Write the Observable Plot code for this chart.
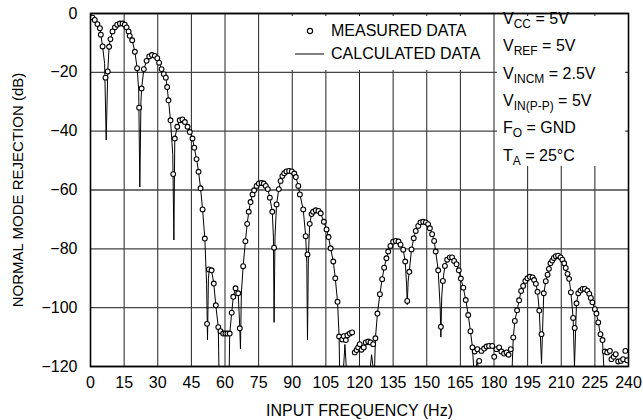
<!DOCTYPE html>
<html>
<head>
<meta charset="utf-8">
<script src="https://cdn.jsdelivr.net/npm/d3@7"></script>
<script src="https://cdn.jsdelivr.net/npm/@observablehq/plot@0.6"></script>
<style>
  html, body { margin: 0; padding: 0; background: #fff; }
  #wrap { position: relative; width: 643px; height: 420px; font-family: "Liberation Sans", Arial, Helvetica, sans-serif; color: #000; }
  .box { position: absolute; background: #fff; }
  .t { position: absolute; font-size: 16px; line-height: 16px; white-space: nowrap; }
  .t sub { font-size: 12px; vertical-align: -4px; line-height: 0; }
</style>
</head>
<body>
<div id="wrap"></div>
<script>
// ---- data ----
const xTicks = [0, 15, 30, 45, 60, 75, 90, 105, 120, 135, 150, 165, 180, 195, 210, 225, 240];
const yTicks = [0, -20, -40, -60, -80, -100, -120];

const measuredFreq = [0.9,1.9,3.1,4.2,4.6,5.4,6.7,7.7,8.3,8.9,9.8,10.9,11.9,13.1,14.3,15.3,16.1,17.0,17.5,18.6,19.8,20.8,21.7,22.8,23.8,25.0,26.2,27.4,28.7,29.8,30.6,31.7,32.7,33.6,34.2,34.8,35.7,36.9,37.6,38.7,39.8,41.0,42.1,43.3,44.3,45.5,46.3,47.3,48.2,49.1,50.0,51.0,52.0,52.8,54.0,55.0,55.9,57.0,58.0,59.2,60.2,61.1,62.1,63.0,63.7,64.7,65.9,66.6,68.1,69.1,69.9,70.6,71.4,72.3,73.0,74.1,75.1,76.3,77.3,78.2,79.1,80.0,81.1,81.9,83.0,84.0,84.8,85.6,86.4,87.4,88.6,89.8,90.9,91.6,92.7,93.4,94.9,96.0,96.8,97.8,98.6,99.3,100.5,101.7,102.7,104.1,105.3,106.2,107.1,108.3,109.2,110.2,110.9,112.3,113.0,113.9,114.6,115.7,116.7,117.9,118.7,119.4,120.1,120.9,121.9,122.8,123.9,124.9,126.1,127.1,128.0,129.1,130.1,131.0,132.0,132.8,133.8,135.0,136.2,137.4,138.3,139.5,140.4,141.3,142.2,143.2,144.2,145.1,146.2,147.2,148.4,149.6,150.6,151.4,152.4,153.3,154.0,155.1,156.3,157.2,158.1,159.1,160.3,161.3,162.2,163.3,164.3,165.2,166.3,167.4,168.5,169.5,170.4,171.4,172.6,173.4,174.4,175.6,176.7,177.8,179.2,180.1,181.1,182.3,183.3,184.5,185.6,186.5,187.5,188.6,189.3,190.3,191.2,192.1,193.0,194.0,194.9,196.0,197.2,197.9,198.7,199.4,200.2,201.2,202.2,203.1,203.9,204.5,205.2,206.0,206.7,207.6,208.6,209.7,210.5,211.3,212.0,212.8,213.5,214.3,215.3,216.0,216.8,217.6,218.6,219.5,220.5,221.6,222.5,223.2,223.9,225.0,225.7,226.5,227.5,228.4,229.4,230.5,231.7,232.4,233.4,234.3,235.4,236.6,237.6,238.6,239.4];
const measuredDb = [-1.4,-2.2,-3.6,-5.0,-7.2,-11.2,-21.8,-19.7,-11.3,-8.7,-6.1,-4.7,-3.8,-3.4,-3.4,-3.8,-4.7,-6.1,-7.6,-9.1,-13.0,-18.6,-32.0,-25.5,-18.9,-16.1,-14.6,-14.1,-14.4,-15.2,-16.7,-18.9,-20.6,-21.8,-25.0,-29.5,-36.3,-54.6,-42.5,-38.5,-36.3,-36.0,-36.9,-38.5,-40.3,-42.5,-45.6,-49.5,-53.8,-59.4,-66.6,-76.5,-105.5,-87.0,-87.3,-91.8,-99.2,-106.6,-108.0,-108.8,-108.8,-108.8,-108.8,-101.7,-96.3,-93.4,-95.1,-107.0,-85.9,-77.4,-71.5,-67.4,-64.1,-61.5,-60.1,-58.6,-57.8,-57.6,-57.8,-58.6,-59.7,-62.6,-67.4,-79.6,-64.9,-59.7,-56.9,-55.2,-54.3,-53.7,-53.5,-53.7,-54.4,-55.6,-58.6,-61.5,-66.6,-75.7,-81.9,-71.5,-68.2,-67.4,-66.9,-67.1,-67.9,-70.8,-73.4,-76.0,-79.8,-84.3,-90.0,-98.0,-109.8,-110.8,-109.7,-111.0,-109.4,-108.8,-108.4,-115.2,-114.4,-113.5,-112.4,-114.3,-113.5,-111.8,-111.5,-111.8,-112.4,-110.4,-102.0,-95.4,-90.3,-86.4,-83.2,-80.9,-79.0,-77.6,-77.3,-77.5,-78.6,-80.3,-84.3,-97.7,-87.8,-80.2,-76.4,-73.9,-72.2,-71.0,-70.8,-71.0,-71.6,-73.0,-75.0,-77.3,-80.9,-87.3,-106.5,-90.9,-85.8,-83.7,-82.9,-82.9,-84.1,-85.2,-87.3,-90.1,-93.2,-97.4,-102.5,-108.0,-113.5,-114.9,-114.1,-118.1,-114.7,-113.9,-113.2,-113.0,-113.0,-116.7,-114.1,-113.5,-114.9,-115.6,-115.2,-116.0,-114.1,-110.1,-104.5,-100.9,-97.5,-94.3,-92.6,-90.9,-90.0,-89.5,-89.7,-90.6,-91.9,-94.6,-101.0,-109.0,-95.1,-91.0,-88.8,-86.8,-84.9,-84.0,-83.1,-82.5,-82.3,-82.9,-83.7,-84.9,-86.5,-88.5,-90.2,-94.8,-103.5,-106.9,-98.5,-95.1,-94.2,-93.6,-93.6,-94.2,-95.3,-96.7,-98.2,-100.5,-102.0,-105.0,-109.0,-111.0,-114.9,-115.2,-114.7,-117.5,-116.7,-115.8,-118.3,-118.1,-117.5,-114.7,-117.9];

const calcFreq = [0,0.9,1.9,3.1,4.2,4.6,5.4,6.3,7.0,7.7,8.3,8.9,9.8,10.9,11.9,13.1,14.3,15.3,16.1,17.0,17.5,18.6,19.8,20.8,21.5,22.0,22.5,22.8,23.8,25.0,26.2,27.4,28.7,29.8,30.6,31.7,32.7,33.6,34.2,34.8,35.7,36.7,37.2,37.6,38.7,39.8,41.0,42.1,43.3,44.3,45.5,46.3,47.3,48.2,49.1,50.0,51.0,51.8,52.2,52.6,53.0,54.0,55.0,55.9,57.0,57.5,61.7,62.1,63.0,63.7,64.7,65.9,66.6,66.9,67.3,68.1,69.1,69.9,70.6,71.4,72.3,73.0,74.1,75.1,76.3,77.3,78.2,79.1,80.0,81.1,81.6,81.9,82.3,83.0,84.0,84.8,85.6,86.4,87.4,88.6,89.8,90.9,91.6,92.7,93.4,94.9,96.0,96.5,96.8,97.2,97.8,98.6,99.3,100.5,101.7,102.7,104.1,105.3,106.2,107.1,108.3,109.2,110.2,110.9,111.3,112.6,113.5,114.4,124.3,125.4,126.6,127.1,128.0,129.1,130.1,131.0,132.0,132.8,133.8,135.0,136.2,137.4,138.3,139.5,140.4,141.0,141.3,141.7,142.2,143.2,144.2,145.1,146.2,147.2,148.4,149.6,150.6,151.4,152.4,153.3,154.0,155.1,156.0,156.3,156.7,157.2,158.1,159.1,160.3,161.3,162.2,163.3,164.3,165.2,166.3,167.4,168.5,169.5,170.4,171.2,172.5,173.7,187.9,188.6,189.3,190.3,191.2,192.1,193.0,194.0,194.9,196.0,197.2,197.9,198.7,199.4,200.2,201.2,202.2,203.1,203.9,204.5,205.2,206.0,206.7,207.6,208.6,209.7,210.5,211.3,212.0,212.8,213.5,214.3,215.3,215.9,216.8,217.6,218.6,219.5,220.5,221.6,222.5,223.2,223.9,225.0,225.7,226.5,227.5,228.4,229.6,240];
const calcDb = [0,-1.4,-2.2,-3.6,-5.0,-7.2,-11.2,-17,-43,-19.7,-11.3,-8.7,-6.1,-4.7,-3.8,-3.4,-3.4,-3.8,-4.7,-6.1,-7.6,-9.1,-13.0,-18.6,-26,-59,-30,-25.5,-18.9,-16.1,-14.6,-14.1,-14.4,-15.2,-16.7,-18.9,-20.6,-21.8,-25.0,-29.5,-36.3,-48,-77,-42.5,-38.5,-36.3,-36.0,-36.9,-38.5,-40.3,-42.5,-45.6,-49.5,-53.8,-59.4,-66.6,-76.5,-92,-111,-90,-87.0,-87.3,-91.8,-99.2,-106.6,-130,-130,-108.8,-101.7,-96.3,-93.4,-95.1,-107.0,-114,-95,-85.9,-77.4,-71.5,-67.4,-64.1,-61.5,-60.1,-58.6,-57.8,-57.6,-57.8,-58.6,-59.7,-62.6,-67.4,-76,-105,-76,-64.9,-59.7,-56.9,-55.2,-54.3,-53.7,-53.5,-53.7,-54.4,-55.6,-58.6,-61.5,-66.6,-75.7,-85,-111,-82,-71.5,-68.2,-67.4,-66.9,-67.1,-67.9,-70.8,-73.4,-76.0,-79.8,-84.3,-90.0,-98.0,-109.8,-130,-124,-112.5,-124,-124,-116,-124,-110.4,-102.0,-95.4,-90.3,-86.4,-83.2,-80.9,-79.0,-77.6,-77.3,-77.5,-78.6,-80.3,-84.3,-92,-99,-91,-87.8,-80.2,-76.4,-73.9,-72.2,-71.0,-70.8,-71.0,-71.6,-73.0,-75.0,-77.3,-80.9,-87.3,-100,-110,-96,-90.9,-85.8,-83.7,-82.9,-82.9,-84.1,-85.2,-87.3,-90.1,-93.2,-97.4,-102.5,-108.0,-113.5,-124,-118,-124,-124,-110.1,-104.5,-100.9,-97.5,-94.3,-92.6,-90.9,-90.0,-89.5,-89.7,-90.6,-91.9,-94.6,-101.0,-119,-95.1,-91.0,-88.8,-86.8,-84.9,-84.0,-83.1,-82.5,-82.3,-82.9,-83.7,-84.9,-86.5,-88.5,-90.2,-94.8,-103.5,-120,-98.5,-95.1,-94.2,-93.6,-93.6,-94.2,-95.3,-96.7,-98.2,-100.5,-102.0,-105.0,-109.0,-111.0,-130,-130];

const legendLabels = ["MEASURED DATA", "CALCULATED DATA"];
const xTitle = "INPUT FREQUENCY (Hz)";
const yTitle = "NORMAL MODE REJECTION (dB)";
const conditions = [
  ["V", "CC", " = 5V"],
  ["V", "REF", " = 5V"],
  ["V", "INCM", " = 2.5V"],
  ["V", "IN(P-P)", " = 5V"],
  ["F", "O", " = GND"],
  ["T", "A", " = 25°C"]
];

// ---- build ----
const measured = measuredFreq.map((f, i) => ({f, db: measuredDb[i]}));
const calculated = calcFreq.map((f, i) => ({f, db: calcDb[i]}));
const fmt = d => d < 0 ? "\u2212" + Math.abs(d) : String(d);
const FONT = '"Liberation Sans", Arial, Helvetica, sans-serif';

const chart = Plot.plot({
  width: 643,
  height: 420,
  marginLeft: 90,
  marginRight: 15,
  marginTop: 13,
  marginBottom: 54,
  style: {fontFamily: FONT, fontSize: "16px", color: "#000", background: "#fff", overflow: "visible"},
  x: {domain: [0, 240], ticks: xTicks, tickFormat: d => String(d), tickSize: 0, tickPadding: 10, label: null},
  y: {domain: [-120, 0], ticks: yTicks, tickFormat: fmt, tickSize: 0, tickPadding: 13, label: null},
  marks: [
    Plot.ruleX(xTicks, {stroke: "#222", strokeWidth: 1}),
    Plot.ruleY(yTicks, {stroke: "#444", strokeWidth: 1.3}),
    Plot.line(calculated, {x: "f", y: "db", stroke: "#000", strokeWidth: 1, clip: true}),
    Plot.dot(measured, {x: "f", y: "db", r: 2.4, stroke: "#000", strokeWidth: 1.1, fill: "#fff", clip: true}),
    Plot.frame({stroke: "#000", strokeWidth: 1.6}),
    Plot.text([xTitle], {frameAnchor: "bottom", dy: 44, lineAnchor: "middle", textAnchor: "middle", text: d => d, fontSize: 16}),
    Plot.text([yTitle], {frameAnchor: "left", dx: -72, rotate: -90, lineAnchor: "middle", textAnchor: "middle", text: d => d, fontSize: 15})
  ]
});

const wrap = document.getElementById("wrap");
wrap.appendChild(chart);

// legend box (white panel over the grid)
const legend = document.createElement("div");
legend.className = "box";
Object.assign(legend.style, {left: "278px", top: "16px", width: "212px", height: "54px"});
legend.innerHTML =
  `<svg width="50" height="54" style="position:absolute;left:0;top:0">
     <circle cx="32" cy="15" r="2.6" fill="#fff" stroke="#000" stroke-width="1.1"></circle>
     <line x1="17" x2="46" y1="38" y2="38" stroke="#000" stroke-width="1"></line>
   </svg>
   <div class="t" style="left:53px;top:7px">${legendLabels[0]}</div>
   <div class="t" style="left:53px;top:30px">${legendLabels[1]}</div>`;
wrap.appendChild(legend);

// operating conditions panel
const cond = document.createElement("div");
cond.className = "box";
Object.assign(cond.style, {left: "497px", top: "16px", width: "128px", height: "150px"});
cond.innerHTML = conditions.map((c, i) =>
  `<div class="t" style="left:6px;top:${i * 27.3 - 5}px">${c[0]}<sub>${c[1]}</sub>${c[2]}</div>`
).join("");
wrap.appendChild(cond);
</script>
</body>
</html>
